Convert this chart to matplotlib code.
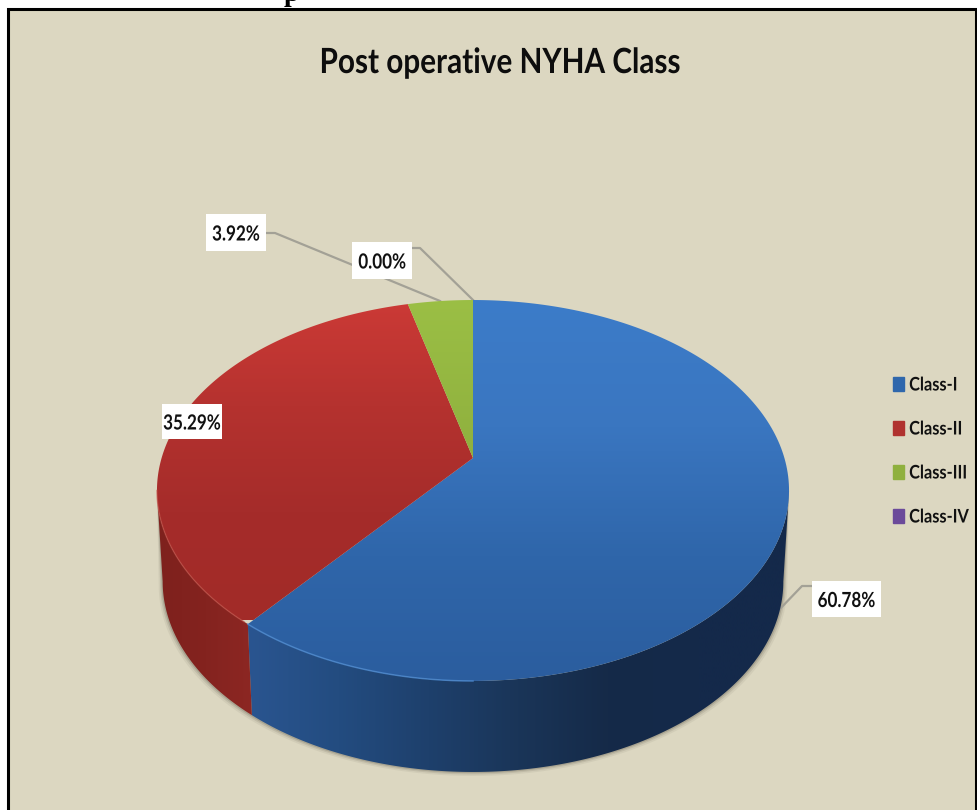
import numpy as np
import matplotlib
matplotlib.use("Agg")
import matplotlib.pyplot as plt
from matplotlib.colors import LinearSegmentedColormap as LSC
from matplotlib.patches import Polygon, Rectangle, Patch
from matplotlib.patheffects import AbstractPathEffect
from matplotlib.transforms import Affine2D

categories = ["Class-I", "Class-II", "Class-III", "Class-IV"]
values = [60.78, 35.29, 3.92, 0.00]
value_labels = ["60.78%", "35.29%", "3.92%", "0.00%"]
colors = ["#2f67ac", "#b0322f", "#8fb03e", "#6b4a9a"]
title = "Post operative NYHA Class"

plt.rcParams["font.family"] = ["Lato", "DejaVu Sans"]
fig = plt.figure(figsize=(9.77, 8.10), dpi=100, facecolor="white")
ax = fig.add_axes([0, 0, 1, 1])
ax.set_xlim(0, 977); ax.set_ylim(810, 0); ax.axis("off")


class Squeeze(AbstractPathEffect):
    """Narrow a text horizontally about a display x, since no condensed font is installed."""
    def __init__(self, sx, x0):
        super().__init__()
        self.tr = Affine2D().translate(-x0, 0).scale(sx, 1).translate(x0, 0)

    def draw_path(self, renderer, gc, tpath, affine, rgbFace=None):
        renderer.draw_path(gc, tpath, affine + self.tr, rgbFace)


BG = "#dcd7c1"
ax.add_patch(Rectangle((8, 9), 968, 805, fc=BG, ec="black", lw=2.2, zorder=1))
ax.text(291, -5.5, "p", family="Liberation Serif", weight="bold", fontsize=20,
        ha="center", va="center", color="black", zorder=2)

# 3-D look: perspective projection of a disc
CX, CY, K, A, C, DEPTH, SHRINK = 473, 458, 311.4, -106.8, 0.1706, 91, 0.982
A_R = np.arccos(-C)            # where the rim is widest on screen
A_L = 2 * np.pi - A_R

def project(theta):
    u, v = np.sin(theta), np.cos(theta)
    w = 1 + C * v
    return CX + K * u / w, (A * v + CY) / w

def arc(a0, a1, n=200):
    return project(np.linspace(a0, a1, n))

def lower(x, y):
    return CX + (x - CX) * SHRINK, y + DEPTH

fr = np.array(values) / sum(values)
edges = np.concatenate([[0], np.cumsum(fr)]) * 2 * np.pi

def grad(patch, cols, horizontal=False, ext=(150, 800, 295, 780), z=5):
    cm = LSC.from_list("g", cols)
    g = np.linspace(0, 1, 256)
    g = g[None, :] if horizontal else g[:, None]
    ax.add_patch(patch)
    im = ax.imshow(g, cmap=cm, extent=(ext[0], ext[1], ext[3], ext[2]), aspect="auto",
                   zorder=z, interpolation="bilinear", origin="upper")
    im.set_clip_path(patch)

# soft shadow round the body
ox, oy = arc(A_R, A_L)
lx, ly = lower(ox, oy)
for grow, alpha in [(4, .07), (2.5, .12), (1.2, .2)]:
    sx = CX + (lx - CX) * (1 + grow / 316)
    ax.fill(np.r_[sx, ox[::-1]], np.r_[ly + grow, oy[::-1]], color="#4a4636",
            alpha=alpha, lw=0, zorder=3)

# side walls (the front half of the rim)
side_cols = {0: ["#2a5590", "#234c80", "#1e406c", "#1a3558", "#152a48", "#14294a", "#14294a"],
             1: ["#7e211d", "#84231f", "#8d2723"]}
side_ext = {0: (248, 789, 295, 780), 1: (157, 255, 295, 780)}
for i in (0, 1):
    a0 = max(edges[i], A_R)
    a1 = min(edges[i + 1], A_L)
    x, y = arc(a0, a1)
    bx, by = lower(x, y)
    xy = np.c_[np.r_[x, bx[::-1]], np.r_[y, by[::-1]]]
    p = Polygon(xy, closed=True, fc="none", ec="none", zorder=4)
    grad(p, side_cols[i], horizontal=True, ext=side_ext[i], z=4)

# top faces
top_cols = {0: ["#3c7cc9", "#3a76c0", "#2f66aa", "#2b5d9e"],
            1: ["#cc3a36", "#b5322f", "#a52c2a", "#a22b28"],
            2: ["#9bbf45", "#8fb03e"],
            3: ["#6b4a9a", "#6b4a9a"]}
top_ext = {0: (150, 800, 298, 685), 1: (150, 800, 298, 620),
           2: (150, 800, 298, 460), 3: (150, 800, 298, 460)}
for i in range(len(values)):
    if fr[i] == 0:
        continue
    x, y = arc(edges[i], edges[i + 1])
    xy = np.c_[np.r_[CX, x], np.r_[CY, y]]
    p = Polygon(xy, closed=True, fc="none", ec="none", zorder=5)
    grad(p, top_cols[i], ext=top_ext[i], z=5)

# pale bevel along the lit part of the front rim
x, y = arc(np.pi, edges[1])
ax.plot(x, y, color="#4d8ad0", lw=1.1, alpha=.8, zorder=6)
x, y = arc(edges[1] + 0.015, A_L)
ax.plot(x, y, color="#c4524a", lw=1.0, alpha=.6, zorder=6)

# labels and leader lines
LEADER = "#a3a196"
leaders = {0: [(777, 612), (802, 586), (812, 586)],
           2: [(440, 301), (275, 233), (266, 233)],
           3: [(473, 300), (420, 248), (412, 248)]}
for pts in leaders.values():
    ax.plot(*zip(*pts), color=LEADER, lw=1.6, zorder=3.5, solid_joinstyle="round")
boxes = {0: (812, 581, 69, 36), 1: (162, 404, 60, 35), 2: (206, 214, 60, 37), 3: (352, 242, 60, 37)}
for i, (bx0, by0, w, h) in boxes.items():
    ax.add_patch(Rectangle((bx0, by0), w, h, fc="white", ec="none", zorder=8))
    cx = bx0 + w / 2
    ax.text(cx, by0 + h / 2, value_labels[i], ha="center", va="center_baseline", fontsize=15,
            weight="bold", color="#111111", zorder=9, path_effects=[Squeeze(0.82, cx)])

ax.text(500, 60, title, ha="center", va="center_baseline", fontsize=25, weight="bold",
        color="#0d0d0d", zorder=9, path_effects=[Squeeze(0.855, 500)])

handles = [Patch(fc=c, ec=c) for c in colors]
leg = ax.legend(handles, categories, loc="center left", bbox_to_anchor=(893 / 977, 1 - 451 / 810),
                frameon=False, labelspacing=1.44, handlelength=0.56, handleheight=0.7,
                handletextpad=0.3, borderpad=0, borderaxespad=0, prop={"weight": "bold", "size": 13.5})
leg.set_zorder(9)
ax.set_xlim(0, 977); ax.set_ylim(810, 0)
fig.canvas.draw()
for t in leg.get_texts():
    t.set_color("#111111")
    t.set_path_effects([Squeeze(0.87, t.get_window_extent().x0)])

fig.savefig("out.png", dpi=100, facecolor="white")
